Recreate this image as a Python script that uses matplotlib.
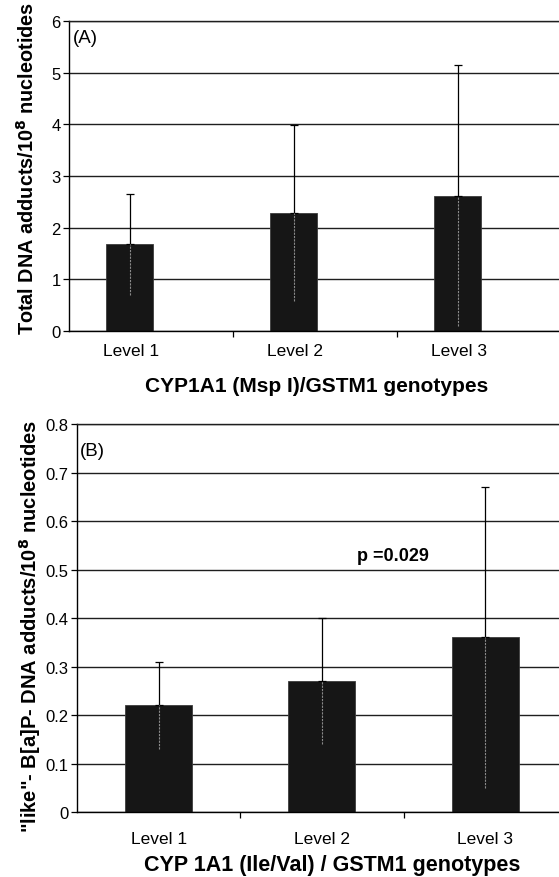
import numpy as np
from matplotlib import pyplot as plt

plt.rcParams['font.family'] = ['Liberation Sans', 'DejaVu Sans']

levels = ['Level 1', 'Level 2', 'Level 3']

# panel A: total DNA adducts, mean and SD
total_mean = [1.68, 2.28, 2.62]
total_sd = [0.98, 1.70, 2.53]

# panel B: B[a]P-like DNA adducts, mean and SD
bap_mean = [0.22, 0.27, 0.36]
bap_sd = [0.09, 0.13, 0.31]

fig = plt.figure(figsize=(5.59, 8.78), dpi=100)

axA = fig.add_axes([0.1234, 0.6219, 0.880, 0.3531])
axB = fig.add_axes([0.1377, 0.0740, 0.8766, 0.4419])


def draw_panel(ax, means, sds, offset, width, ymax, ystep, label_off, xpad):
    idx = np.arange(len(means))
    xpos = idx + offset
    ax.set_axisbelow(True)
    ax.bar(xpos, means, width=width, color='#161616', edgecolor='#3c3c3c',
           linewidth=0.6, zorder=2)
    # upper half of the error bar in black
    ax.errorbar(xpos, means, yerr=[np.zeros(len(sds)), sds], fmt='none',
                ecolor='black', elinewidth=0.9, capsize=3, capthick=0.9, zorder=3)
    # lower half runs inside the dark bar, shows up light
    ax.vlines(xpos, np.array(means) - np.array(sds), means, colors='#8a8a8a',
              linewidth=0.8, linestyles=(0, (2, 1)), zorder=3)

    ax.set_xlim(0, 3)
    ax.set_ylim(0, ymax)
    ax.set_yticks(np.arange(0, ymax + ystep / 2, ystep))
    ax.yaxis.grid(True, color='#1e1e1e', linewidth=1.0)
    ax.tick_params(axis='y', labelsize=12, length=4, width=0.9, pad=2)

    ax.set_xticks(idx + label_off)
    ax.set_xticklabels(levels, fontsize=12.5)
    ax.tick_params(axis='x', which='major', length=0, pad=xpad)
    ax.set_xticks([1, 2], minor=True)
    ax.tick_params(axis='x', which='minor', length=4, width=0.9)

    ax.spines['right'].set_visible(False)
    for s in ['left', 'bottom', 'top']:
        ax.spines[s].set_linewidth(1.0)
        ax.spines[s].set_color('black')
    ax.spines['top'].set_color('#1e1e1e')


draw_panel(axA, total_mean, total_sd, 0.37, 0.29, 6, 1, 0.38, 9)
axA.set_ylabel('Total DNA adducts/10$^{\\mathbf{8}}$ nucleotides',
               fontsize=14.3, fontweight='bold')
axA.yaxis.set_label_coords(-0.085, 0.526)
axA.yaxis.label.set_va('center')
axA.set_xlabel('CYP1A1 (Msp I)/GSTM1 genotypes', fontsize=15, fontweight='bold')
axA.xaxis.set_label_coords(0.504, -0.177)
axA.xaxis.label.set_va('center')
axA.text(0.008, 0.948, '(A)', transform=axA.transAxes, fontsize=13.5,
         ha='left', va='center')

draw_panel(axB, bap_mean, bap_sd, 0.5, 0.41, 0.8, 0.1, 0.5, 14)
axB.set_yticklabels(['0'] + ['%.1f' % v for v in np.arange(0.1, 0.85, 0.1)])
axB.set_ylabel('"like"- B[a]P- DNA adducts/10$^{\\mathbf{8}}$ nucleotides',
               fontsize=14.5, fontweight='bold')
axB.yaxis.set_label_coords(-0.096, 0.482)
axB.yaxis.label.set_va('center')
axB.set_xlabel('CYP 1A1 (Ile/Val) / GSTM1 genotypes', fontsize=15.5, fontweight='bold')
axB.xaxis.set_label_coords(0.52, -0.134)
axB.xaxis.label.set_va('center')
axB.text(0.006, 0.933, '(B)', transform=axB.transAxes, fontsize=13.5,
         ha='left', va='center')
axB.text(1.715, 0.528, 'p =0.029', fontsize=13, fontweight='bold',
         ha='left', va='center')

fig.savefig('out.png', dpi=100)
